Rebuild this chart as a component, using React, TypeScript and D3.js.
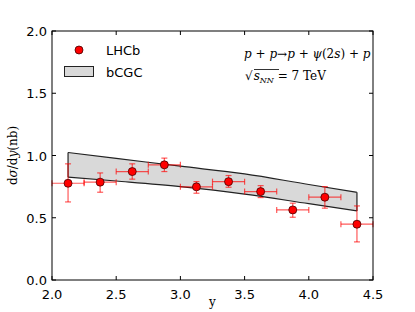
import { useEffect, useRef } from "react";
import * as d3 from "d3";

// LHCb data: rapidity bins, cross section and errors
const binCenters = [2.125, 2.375, 2.625, 2.875, 3.125, 3.375, 3.625, 3.875, 4.125, 4.375];
const binHalfWidth = [0.125, 0.125, 0.125, 0.125, 0.125, 0.125, 0.125, 0.125, 0.125, 0.125];
const lhcbValues = [0.777, 0.786, 0.871, 0.925, 0.748, 0.79, 0.71, 0.563, 0.665, 0.448];
const errUp = [0.156, 0.074, 0.062, 0.054, 0.042, 0.049, 0.048, 0.054, 0.085, 0.147];
const errDown = [0.15, 0.081, 0.061, 0.054, 0.051, 0.045, 0.048, 0.059, 0.088, 0.142];

// bCGC band
const bandX = [2.125, 2.5, 3.0, 3.5, 4.0, 4.375];
const bandUpper = [1.024, 0.977, 0.914, 0.852, 0.767, 0.705];
const bandLower = [0.826, 0.795, 0.75, 0.69, 0.613, 0.555];

const xTicks = [2.0, 2.5, 3.0, 3.5, 4.0, 4.5];
const yTicks = [0.0, 0.5, 1.0, 1.5, 2.0];

const W = 415;
const H = 312;
const margin = { top: 31, right: 42, bottom: 32, left: 52 };

const App = () => {
  const ref = useRef<SVGSVGElement>(null);

  useEffect(() => {
    if (!ref.current) return;
    const svg = d3.select(ref.current);
    svg.selectAll("*").remove();

    const x = d3.scaleLinear().domain([2.0, 4.5]).range([margin.left, W - margin.right]);
    const y = d3.scaleLinear().domain([0, 2.0]).range([H - margin.bottom, margin.top]);

    const sans = "'DejaVu Sans', sans-serif";
    const serif = "'DejaVu Serif', 'Liberation Serif', serif";

    // band
    const bandData = bandX.map((v, i) => ({ x: v, lo: bandLower[i], hi: bandUpper[i] }));
    const area = d3
      .area<{ x: number; lo: number; hi: number }>()
      .curve(d3.curveMonotoneX)
      .x((d) => x(d.x))
      .y0((d) => y(d.lo))
      .y1((d) => y(d.hi));
    svg
      .append("path")
      .datum(bandData)
      .attr("d", area)
      .attr("fill", "#d9d9d9")
      .attr("stroke", "none");
    const edge = d3
      .line<{ x: number; v: number }>()
      .curve(d3.curveMonotoneX)
      .x((d) => x(d.x))
      .y((d) => y(d.v));
    const ol = svg.append("g").attr("fill", "none").attr("stroke", "#222").attr("stroke-width", 1.2);
    ol.append("path").attr("d", edge(bandData.map((d) => ({ x: d.x, v: d.hi }))));
    ol.append("path").attr("d", edge(bandData.map((d) => ({ x: d.x, v: d.lo }))));
    const first = bandData[0];
    const last = bandData[bandData.length - 1];
    ol.append("line").attr("x1", x(first.x)).attr("x2", x(first.x)).attr("y1", y(first.hi)).attr("y2", y(first.lo));
    ol.append("line").attr("x1", x(last.x)).attr("x2", x(last.x)).attr("y1", y(last.hi)).attr("y2", y(last.lo));

    // error bars
    const eb = svg.append("g").attr("stroke", "red").attr("stroke-opacity", 0.65).attr("stroke-width", 1.2);
    binCenters.forEach((cx, i) => {
      const px = x(cx);
      const py = y(lhcbValues[i]);
      const x0 = x(cx - binHalfWidth[i]);
      const x1 = x(cx + binHalfWidth[i]);
      const yt = y(lhcbValues[i] + errUp[i]);
      const yb = y(lhcbValues[i] - errDown[i]);
      const cap = 3;
      eb.append("line").attr("x1", x0).attr("x2", x1).attr("y1", py).attr("y2", py);
      eb.append("line").attr("x1", x0).attr("x2", x0).attr("y1", py - cap).attr("y2", py + cap);
      eb.append("line").attr("x1", x1).attr("x2", x1).attr("y1", py - cap).attr("y2", py + cap);
      eb.append("line").attr("x1", px).attr("x2", px).attr("y1", yt).attr("y2", yb);
      eb.append("line").attr("x1", px - cap).attr("x2", px + cap).attr("y1", yt).attr("y2", yt);
      eb.append("line").attr("x1", px - cap).attr("x2", px + cap).attr("y1", yb).attr("y2", yb);
    });

    svg
      .append("g")
      .selectAll("circle")
      .data(binCenters)
      .enter()
      .append("circle")
      .attr("cx", (d) => x(d))
      .attr("cy", (_d, i) => y(lhcbValues[i]))
      .attr("r", 4)
      .attr("fill", "red")
      .attr("stroke", "#400")
      .attr("stroke-width", 0.8);

    // frame
    svg
      .append("rect")
      .attr("x", margin.left)
      .attr("y", margin.top)
      .attr("width", W - margin.left - margin.right)
      .attr("height", H - margin.top - margin.bottom)
      .attr("fill", "none")
      .attr("stroke", "black")
      .attr("stroke-width", 1);

    // ticks (inward, all sides)
    const tk = svg.append("g").attr("stroke", "black").attr("stroke-width", 1);
    xTicks.forEach((t) => {
      tk.append("line").attr("x1", x(t)).attr("x2", x(t)).attr("y1", y(0)).attr("y2", y(0) - 4);
      tk.append("line").attr("x1", x(t)).attr("x2", x(t)).attr("y1", y(2)).attr("y2", y(2) + 4);
    });
    yTicks.forEach((t) => {
      tk.append("line").attr("x1", x(2)).attr("x2", x(2) + 4).attr("y1", y(t)).attr("y2", y(t));
      tk.append("line").attr("x1", x(4.5)).attr("x2", x(4.5) - 4).attr("y1", y(t)).attr("y2", y(t));
    });

    svg
      .append("g")
      .selectAll("text")
      .data(xTicks)
      .enter()
      .append("text")
      .attr("x", (d) => x(d))
      .attr("y", y(0) + 19)
      .attr("text-anchor", "middle")
      .style("font-family", sans)
      .style("font-size", "13px")
      .text((d) => d3.format(".1f")(d));

    svg
      .append("g")
      .selectAll("text")
      .data(yTicks)
      .enter()
      .append("text")
      .attr("x", x(2) - 5)
      .attr("y", (d) => y(d) + 5)
      .attr("text-anchor", "end")
      .style("font-family", sans)
      .style("font-size", "13px")
      .text((d) => d3.format(".1f")(d));

    // axis labels
    svg
      .append("text")
      .attr("x", (x(2) + x(4.5)) / 2)
      .attr("y", 306)
      .attr("text-anchor", "middle")
      .style("font-family", serif)
      .style("font-size", "12px")
      .text("y");

    const yl = svg
      .append("text")
      .attr("transform", `translate(17,${(y(0) + y(2)) / 2}) rotate(-90)`)
      .attr("text-anchor", "middle")
      .style("font-family", serif)
      .style("font-size", "12px");
    yl.append("tspan").text("d");
    yl.append("tspan").style("font-style", "italic").text("σ");
    yl.append("tspan").text("/d");
    yl.append("tspan").style("font-style", "italic").text("y");
    yl.append("tspan").text("(nb)");

    // legend
    svg.append("circle").attr("cx", 79).attr("cy", 50).attr("r", 4).attr("fill", "red").attr("stroke", "#400").attr("stroke-width", 0.8);
    svg
      .append("text")
      .attr("x", 106)
      .attr("y", 55)
      .style("font-family", sans)
      .style("font-size", "13px")
      .text("LHCb");
    svg
      .append("rect")
      .attr("x", 64.5)
      .attr("y", 66.5)
      .attr("width", 29)
      .attr("height", 10)
      .attr("fill", "#d9d9d9")
      .attr("stroke", "#222")
      .attr("stroke-width", 1);
    svg
      .append("text")
      .attr("x", 106)
      .attr("y", 77)
      .style("font-family", sans)
      .style("font-size", "13px")
      .text("bCGC");

    // annotation
    const a1 = svg
      .append("text")
      .attr("x", 244)
      .attr("y", 58)
      .style("font-family", serif)
      .style("font-size", "12px");
    a1.append("tspan").style("font-style", "italic").text("p");
    a1.append("tspan").text(" + ");
    a1.append("tspan").style("font-style", "italic").text("p");
    a1.append("tspan").text("→");
    a1.append("tspan").style("font-style", "italic").text("p");
    a1.append("tspan").text(" + ");
    a1.append("tspan").style("font-style", "italic").text("ψ");
    a1.append("tspan").text("(2");
    a1.append("tspan").style("font-style", "italic").text("s");
    a1.append("tspan").text(") + ");
    a1.append("tspan").style("font-style", "italic").text("p");

    const a2 = svg
      .append("text")
      .attr("x", 245)
      .attr("y", 80)
      .style("font-family", serif)
      .style("font-size", "12px");
    a2.append("tspan").text("√");
    a2.append("tspan").style("font-style", "italic").attr("dx", 1).text("s");
    a2.append("tspan").style("font-style", "italic").style("font-size", "8px").attr("dy", 3).text("NN");
    a2.append("tspan").attr("dy", -3).text(" = 7 TeV");
    // overline of sqrt
    svg
      .append("line")
      .attr("x1", 254)
      .attr("x2", 279)
      .attr("y1", 69.5)
      .attr("y2", 69.5)
      .attr("stroke", "black")
      .attr("stroke-width", 0.8);
  }, []);

  return <svg ref={ref} width={W} height={H} style={{ display: "block", position: "absolute", left: 0, top: 0 }} />;
};

export default App;
